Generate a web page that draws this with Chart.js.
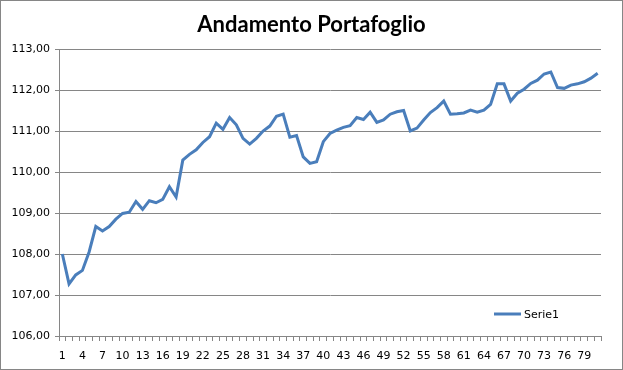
<!DOCTYPE html>
<html>
<head>
<meta charset="utf-8">
<script src="https://cdn.jsdelivr.net/npm/chart.js@4/dist/chart.umd.min.js"></script>
<style>
  html, body { margin: 0; padding: 0; background: #ffffff; }
  #wrap { width: 623px; height: 370px; position: relative; }
</style>
</head>
<body>
<div id="wrap"><canvas id="c" width="623" height="370"></canvas></div>
<script>
const chartTitle = "Andamento Portafoglio";
const seriesName = "Serie1";
const categories = ["1","2","3","4","5","6","7","8","9","10","11","12","13","14","15","16","17","18","19","20",
  "21","22","23","24","25","26","27","28","29","30","31","32","33","34","35","36","37","38","39","40",
  "41","42","43","44","45","46","47","48","49","50","51","52","53","54","55","56","57","58","59","60",
  "61","62","63","64","65","66","67","68","69","70","71","72","73","74","75","76","77","78","79","80","81"];
const values = [108.00,107.27,107.49,107.60,108.05,108.67,108.56,108.67,108.85,108.99,
  109.02,109.28,109.09,109.30,109.25,109.33,109.64,109.39,110.29,110.43,
  110.54,110.72,110.86,111.19,111.04,111.33,111.15,110.82,110.68,110.82,
  111.00,111.12,111.36,111.41,110.85,110.89,110.37,110.21,110.25,110.74,
  110.94,111.02,111.09,111.13,111.33,111.28,111.46,111.21,111.27,111.41,
  111.47,111.50,111.00,111.07,111.27,111.45,111.57,111.73,111.41,111.42,
  111.44,111.51,111.46,111.51,111.65,112.15,112.15,111.73,111.92,112.02,
  112.16,112.24,112.39,112.44,112.06,112.04,112.12,112.15,112.20,112.29,112.41];
const xTickLabels = ["1","4","7","10","13","16","19","22","25","28","31","34","37","40","43","46","49","52","55","58","61","64","67","70","73","76","79"];
const yMin = 106, yMax = 113, yStep = 1;

const lineColor = "#4A7EBB";
const gridColor = "#868686";
const tickFont = { family: "DejaVu Sans", size: 11 };

const frame = {
  id: "frame",
  beforeDraw(chart) {
    const ctx = chart.ctx;
    ctx.save();
    ctx.fillStyle = "#ffffff";
    ctx.fillRect(0, 0, chart.width, chart.height);
    ctx.restore();
  },
  afterDraw(chart) {
    const ctx = chart.ctx;
    ctx.save();
    ctx.strokeStyle = "#868686";
    ctx.lineWidth = 1;
    ctx.strokeRect(0.5, 0.5, chart.width - 1, chart.height - 1);
    // legend inside plot area, lower right
    const x0 = 494, y0 = 314;
    ctx.strokeStyle = lineColor;
    ctx.lineWidth = 3;
    ctx.beginPath();
    ctx.moveTo(x0, y0);
    ctx.lineTo(x0 + 27, y0);
    ctx.stroke();
    ctx.fillStyle = "#000000";
    ctx.font = "11px 'DejaVu Sans'";
    ctx.textBaseline = "middle";
    ctx.textAlign = "left";
    ctx.fillText(chart.data.datasets[0].label, x0 + 30, y0 + 1);
    ctx.restore();
  }
};

new Chart(document.getElementById("c"), {
  type: "line",
  data: {
    labels: categories,
    datasets: [{
      label: seriesName,
      data: values,
      borderColor: lineColor,
      borderWidth: 3,
      pointRadius: 0,
      tension: 0,
      fill: false
    }]
  },
  options: {
    responsive: false,
    animation: false,
    devicePixelRatio: 1,
    layout: { padding: { left: 0, right: 0, top: 0, bottom: 6 } },
    plugins: {
      legend: { display: false },
      tooltip: { enabled: false },
      title: {
        display: true,
        text: chartTitle,
        color: "#000000",
        font: { family: "Lato", size: 22, weight: "bold" },
        padding: { top: 12, bottom: 10.6 }
      }
    },
    scales: {
      x: {
        type: "category",
        offset: true,
        grid: { display: true, drawOnChartArea: false, drawTicks: true, tickLength: 5, color: gridColor, offset: true },
        border: { display: true, color: gridColor, width: 1 },
        ticks: {
          autoSkip: false,
          maxRotation: 0,
          minRotation: 0,
          padding: 9,
          color: "#000000",
          font: tickFont,
          callback: function(v, i) {
            const lab = this.getLabelForValue(v);
            return xTickLabels.includes(lab) ? lab : "";
          }
        },
        afterFit(scale) { scale.height = 28; }
      },
      y: {
        min: yMin,
        max: yMax,
        grid: { color: gridColor, lineWidth: 1, tickLength: 4, drawTicks: true },
        border: { display: true, color: gridColor, width: 1 },
        ticks: {
          stepSize: yStep,
          padding: 5,
          color: "#000000",
          font: tickFont,
          callback: v => Number(v).toFixed(2).replace(".", ",")
        },
        afterFit(scale) { scale.width = 59; }
      },
      yRight: {
        position: "right",
        min: yMin,
        max: yMax,
        grid: { display: false, drawOnChartArea: false },
        border: { display: false },
        ticks: { display: false },
        afterFit(scale) { scale.width = 22; }
      }
    }
  },
  plugins: [frame]
});
</script>
</body>
</html>
